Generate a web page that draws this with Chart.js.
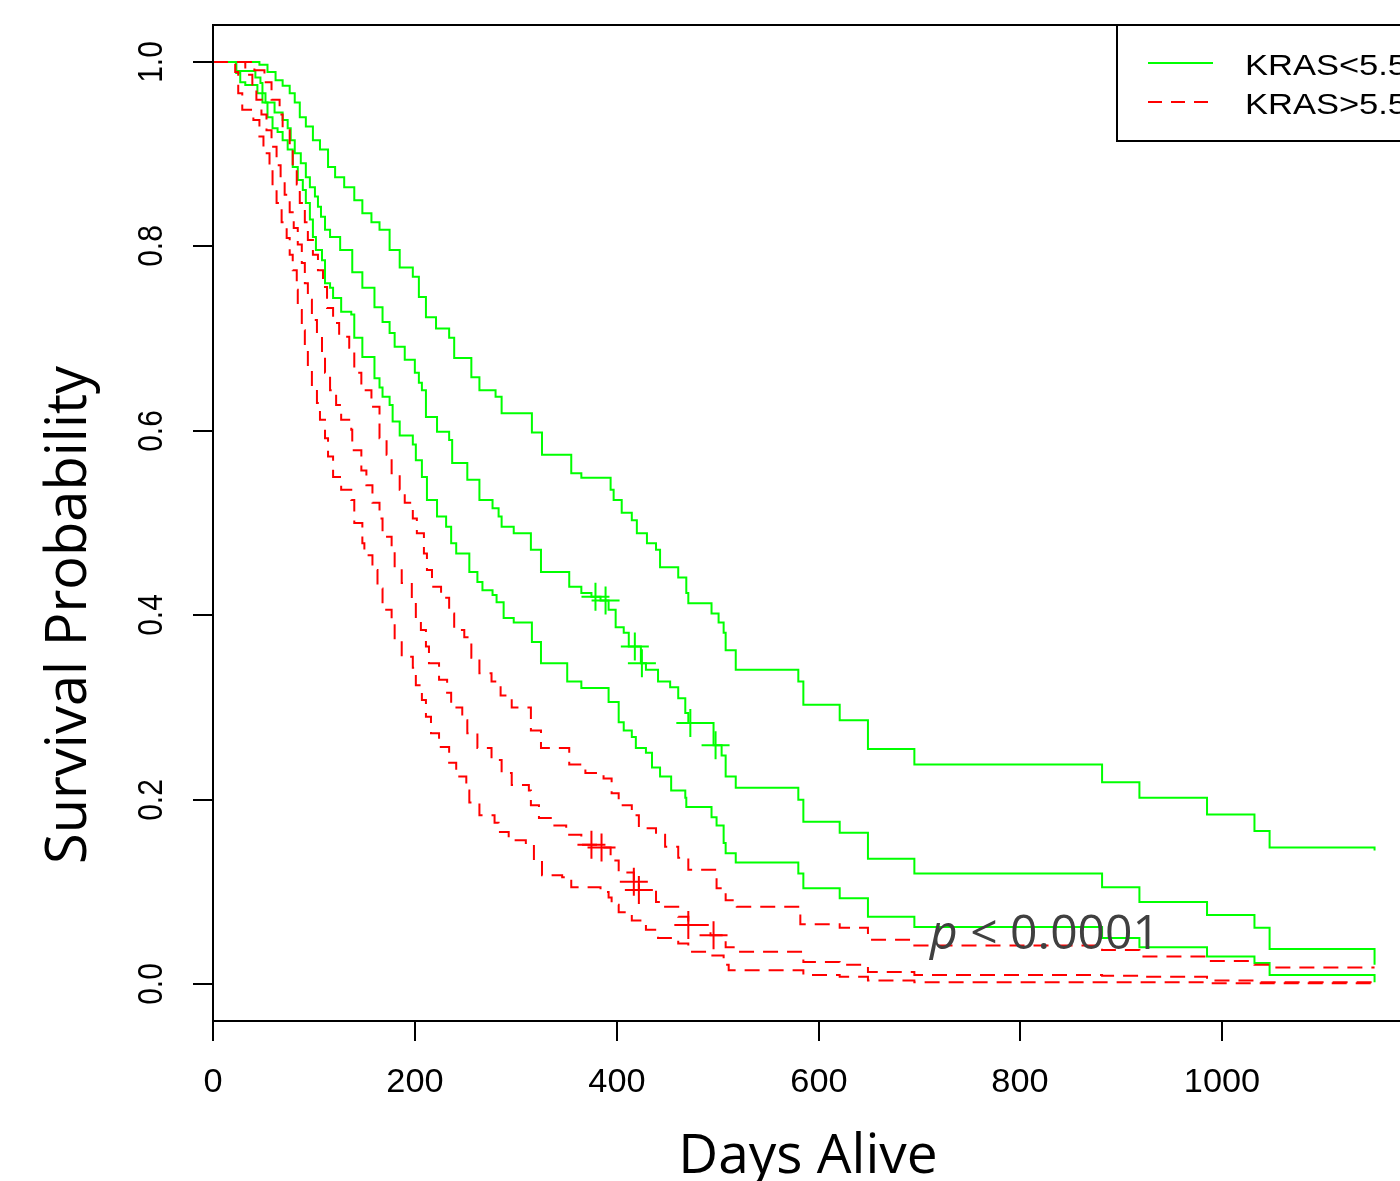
<!DOCTYPE html>
<html>
<head>
<meta charset="utf-8">
<title>KRAS survival</title>
<script src="https://cdn.jsdelivr.net/npm/chart.js@4.4.0/dist/chart.umd.min.js"></script>
<style>
  html, body { margin: 0; padding: 0; background: #fff; overflow: hidden; }
  #wrap { width: 1440px; height: 1181px; }
</style>
</head>
<body>
<div id="wrap"><canvas id="km" width="1440" height="1181"></canvas></div>
<script>
// ---- data (days, survival probability) ----
// KRAS<5.5 : estimate + upper / lower confidence limits
const lowDays = [0, 23, 42, 47, 49, 52, 61, 69, 74, 77, 81, 87, 92, 96, 101, 104, 107, 111, 116, 126, 138, 148, 160, 168, 175, 180, 190, 200, 204, 207, 211, 222, 234, 237, 252, 264, 277, 283, 286, 298, 315, 325, 353, 365, 375, 384, 392, 399, 407, 412, 424, 429, 441, 453, 461, 468, 471, 496, 504, 508, 518, 580, 585, 621, 649, 695, 881, 918, 985, 1032, 1047, 1151];
const lowSurv = [1, 0.990, 0.983, 0.977, 0.966, 0.956, 0.945, 0.937, 0.928, 0.915, 0.901, 0.890, 0.875, 0.864, 0.854, 0.843, 0.832, 0.818, 0.810, 0.796, 0.772, 0.755, 0.734, 0.718, 0.706, 0.691, 0.677, 0.663, 0.652, 0.644, 0.615, 0.599, 0.590, 0.565, 0.547, 0.525, 0.516, 0.507, 0.496, 0.489, 0.471, 0.447, 0.431, 0.424, 0.420, 0.416, 0.406, 0.387, 0.381, 0.366, 0.348, 0.341, 0.328, 0.322, 0.310, 0.294, 0.283, 0.259, 0.248, 0.225, 0.213, 0.200, 0.176, 0.164, 0.136, 0.120, 0.105, 0.089, 0.075, 0.061, 0.038, 0.021];

const lowUpDays = [0, 46, 54, 62, 69, 76, 81, 86, 92, 99, 106, 114, 121, 130, 140, 148, 157, 165, 175, 185, 198, 204, 211, 221, 234, 239, 256, 264, 280, 286, 316, 326, 355, 365, 394, 397, 405, 415, 420, 430, 439, 443, 461, 469, 471, 494, 501, 506, 508, 518, 580, 585, 621, 649, 695, 881, 918, 985, 1032, 1047, 1151];
const lowUpSurv = [1, 0.997, 0.989, 0.980, 0.974, 0.966, 0.956, 0.940, 0.930, 0.915, 0.905, 0.886, 0.875, 0.864, 0.850, 0.836, 0.826, 0.818, 0.796, 0.777, 0.767, 0.745, 0.723, 0.711, 0.701, 0.679, 0.658, 0.644, 0.637, 0.619, 0.598, 0.574, 0.554, 0.549, 0.536, 0.525, 0.511, 0.503, 0.489, 0.478, 0.471, 0.452, 0.441, 0.424, 0.413, 0.402, 0.392, 0.381, 0.362, 0.341, 0.328, 0.303, 0.286, 0.255, 0.238, 0.219, 0.202, 0.184, 0.166, 0.148, 0.145];

const lowLoDays = [0, 23, 27, 32, 44, 49, 54, 59, 64, 69, 74, 79, 84, 89, 92, 96, 99, 102, 108, 111, 116, 119, 127, 137, 140, 148, 160, 165, 168, 175, 178, 185, 198, 201, 207, 212, 222, 231, 236, 241, 254, 262, 267, 277, 281, 288, 298, 316, 325, 351, 365, 392, 402, 407, 415, 419, 429, 435, 443, 454, 468, 469, 494, 499, 506, 508, 518, 580, 585, 621, 649, 695, 881, 918, 985, 1032, 1047, 1151];
const lowLoSurv = [1, 0.988, 0.978, 0.975, 0.966, 0.956, 0.940, 0.928, 0.924, 0.915, 0.905, 0.886, 0.872, 0.861, 0.847, 0.829, 0.810, 0.796, 0.785, 0.760, 0.755, 0.744, 0.729, 0.726, 0.701, 0.680, 0.657, 0.647, 0.637, 0.628, 0.610, 0.595, 0.585, 0.568, 0.550, 0.525, 0.507, 0.496, 0.478, 0.467, 0.447, 0.436, 0.427, 0.422, 0.414, 0.397, 0.392, 0.371, 0.348, 0.328, 0.321, 0.306, 0.284, 0.275, 0.268, 0.256, 0.251, 0.235, 0.225, 0.210, 0.202, 0.192, 0.181, 0.172, 0.153, 0.142, 0.132, 0.120, 0.104, 0.093, 0.073, 0.062, 0.050, 0.040, 0.030, 0.023, 0.010, 0.002];

// KRAS>5.5 : estimate + upper / lower confidence limits
const highDays = [0, 32, 39, 43, 48, 53, 58, 63, 67, 71, 76, 80, 84, 88, 91, 94, 98, 103, 108, 111, 116, 122, 127, 137, 138, 147, 152, 158, 165, 168, 177, 180, 187, 197, 201, 206, 211, 214, 224, 232, 236, 247, 252, 262, 276, 286, 296, 313, 315, 323, 336, 350, 365, 385, 394, 402, 417, 422, 439, 448, 461, 471, 493, 508, 519, 585, 621, 649, 695, 881, 918, 985, 1032, 1151];
const highSurv = [1, 0.986, 0.972, 0.959, 0.943, 0.926, 0.908, 0.888, 0.872, 0.856, 0.837, 0.820, 0.802, 0.782, 0.760, 0.742, 0.720, 0.702, 0.684, 0.663, 0.644, 0.628, 0.612, 0.601, 0.579, 0.557, 0.541, 0.522, 0.505, 0.485, 0.471, 0.452, 0.435, 0.416, 0.398, 0.384, 0.366, 0.348, 0.330, 0.316, 0.300, 0.286, 0.272, 0.256, 0.243, 0.229, 0.216, 0.210, 0.194, 0.180, 0.172, 0.162, 0.151, 0.148, 0.134, 0.121, 0.111, 0.102, 0.089, 0.084, 0.073, 0.064, 0.053, 0.040, 0.035, 0.024, 0.021, 0.013, 0.010, 0.009, 0.008, 0.004, 0.002, 0.001];

const highUpDays = [0, 41, 51, 58, 66, 69, 76, 79, 83, 86, 91, 94, 99, 104, 109, 113, 119, 125, 135, 140, 147, 157, 165, 172, 177, 185, 190, 198, 202, 209, 212, 217, 226, 234, 239, 249, 256, 264, 276, 285, 296, 315, 325, 353, 369, 387, 395, 402, 415, 422, 439, 448, 461, 471, 499, 508, 519, 582, 621, 649, 695, 881, 918, 985, 1032, 1047, 1151];
const highUpSurv = [1, 0.991, 0.978, 0.959, 0.943, 0.926, 0.905, 0.886, 0.867, 0.847, 0.826, 0.807, 0.791, 0.774, 0.756, 0.733, 0.717, 0.702, 0.690, 0.663, 0.644, 0.626, 0.592, 0.574, 0.554, 0.536, 0.522, 0.505, 0.489, 0.467, 0.449, 0.431, 0.419, 0.402, 0.384, 0.376, 0.354, 0.337, 0.328, 0.313, 0.300, 0.275, 0.256, 0.238, 0.229, 0.223, 0.207, 0.194, 0.183, 0.169, 0.162, 0.149, 0.137, 0.124, 0.104, 0.091, 0.084, 0.065, 0.061, 0.048, 0.042, 0.037, 0.030, 0.025, 0.021, 0.018, 0.018];

const highLoDays = [0, 22, 25, 29, 40, 46, 50, 56, 59, 63, 68, 73, 76, 79, 83, 84, 88, 91, 94, 98, 103, 106, 111, 114, 119, 127, 137, 140, 148, 150, 158, 163, 168, 177, 180, 187, 198, 201, 207, 211, 216, 224, 234, 241, 251, 254, 264, 279, 283, 293, 310, 318, 326, 346, 355, 384, 392, 395, 402, 415, 429, 441, 461, 471, 493, 506, 511, 585, 621, 649, 695, 985, 1151];
const highLoSurv = [1, 0.989, 0.966, 0.948, 0.937, 0.919, 0.901, 0.883, 0.863, 0.847, 0.826, 0.809, 0.791, 0.774, 0.753, 0.731, 0.709, 0.688, 0.669, 0.647, 0.630, 0.612, 0.592, 0.572, 0.550, 0.536, 0.525, 0.500, 0.478, 0.465, 0.449, 0.429, 0.406, 0.393, 0.373, 0.355, 0.343, 0.324, 0.308, 0.290, 0.272, 0.257, 0.240, 0.225, 0.210, 0.197, 0.183, 0.175, 0.165, 0.156, 0.151, 0.134, 0.118, 0.116, 0.105, 0.100, 0.094, 0.086, 0.078, 0.069, 0.059, 0.050, 0.044, 0.035, 0.031, 0.021, 0.015, 0.010, 0.008, 0.004, 0.002, 0.001, 0];

// censored observations (+)
const lowCensorDays = [379, 389, 418, 425, 473, 498];
const lowCensorSurv = [0.420, 0.416, 0.366, 0.348, 0.283, 0.259];
const highCensorDays = [375, 385, 417, 422, 471, 496];
const highCensorSurv = [0.151, 0.148, 0.111, 0.102, 0.064, 0.053];

// axes
const xTicks = [0, 200, 400, 600, 800, 1000];
const xTickLabels = ['0', '200', '400', '600', '800', '1000'];
const yTicks = [0, 0.2, 0.4, 0.6, 0.8, 1.0];
const yTickLabels = ['0.0', '0.2', '0.4', '0.6', '0.8', '1.0'];
const groupNames = ['KRAS<5.5', 'KRAS>5.5'];
const pValueText = '< 0.0001';

const GREEN = '#00ff00';
const RED = '#ff0000';
const DASH = [15, 9];
const textStretch = 1.15; // the original figure is a little wider than tall

function toPoints(days, surv) {
  return days.map((d, i) => ({ x: d, y: surv[i] }));
}

function curve(days, surv, color, dashed) {
  return {
    data: toPoints(days, surv),
    borderColor: color,
    borderWidth: 2,
    borderDash: dashed ? DASH : [],
    stepped: 'before',
    pointRadius: 0,
    fill: false,
    order: dashed ? 0 : 1
  };
}

function censorMarks(days, surv, color) {
  return {
    data: toPoints(days, surv),
    showLine: false,
    pointStyle: 'cross',
    pointRadius: 14,
    pointBorderWidth: 2,
    borderColor: color,
    pointBorderColor: color,
    order: 0
  };
}

function wideText(ctx, txt, x, y, angle, stretch) {
  ctx.save();
  ctx.translate(x, y);
  ctx.scale(stretch || textStretch, 1);
  ctx.rotate(angle);
  ctx.fillText(txt, 0, 0);
  ctx.restore();
}

// frame, ticks, labels, legend and p-value drawn R style
const rDecor = {
  id: 'rDecor',
  afterDraw(chart) {
    const ctx = chart.ctx;
    const area = chart.chartArea;
    const xs = chart.scales.x, ys = chart.scales.y;
    ctx.save();
    ctx.setLineDash([]);
    ctx.strokeStyle = '#000';
    ctx.lineWidth = 2;
    ctx.strokeRect(area.left, area.top, area.right - area.left, area.bottom - area.top);

    ctx.fillStyle = '#000';
    ctx.textAlign = 'center';
    ctx.textBaseline = 'alphabetic';
    ctx.font = '33px "Liberation Sans", Arial, sans-serif';
    xTicks.forEach((v, i) => {
      const px = Math.round(xs.getPixelForValue(v));
      ctx.beginPath();
      ctx.moveTo(px, area.bottom);
      ctx.lineTo(px, area.bottom + 20);
      ctx.stroke();
      wideText(ctx, xTickLabels[i], px, area.bottom + 71, 0, 1.04);
    });
    ctx.font = '30px "Liberation Sans", Arial, sans-serif';
    yTicks.forEach((v, i) => {
      const py = Math.round(ys.getPixelForValue(v));
      ctx.beginPath();
      ctx.moveTo(area.left - 20, py);
      ctx.lineTo(area.left, py);
      ctx.stroke();
      wideText(ctx, yTickLabels[i], area.left - 51, py, -Math.PI / 2);
    });

    // axis titles
    ctx.font = '55px "Open Sans", sans-serif';
    ctx.fillText('Days Alive', 808, 1173);
    ctx.save();
    ctx.translate(86, 615);
    ctx.rotate(-Math.PI / 2);
    ctx.font = '56px "Open Sans", sans-serif';
    ctx.fillText('Survival Probability', 0, 0);
    ctx.restore();

    // legend
    const lx = 1117, ly = area.top;
    ctx.strokeRect(lx, ly, 400, 116);
    ctx.lineWidth = 2;
    ctx.strokeStyle = GREEN;
    ctx.beginPath(); ctx.moveTo(1148, 63); ctx.lineTo(1213, 63); ctx.stroke();
    ctx.strokeStyle = RED;
    ctx.setLineDash([14, 9]);
    ctx.beginPath(); ctx.moveTo(1148, 102); ctx.lineTo(1213, 102); ctx.stroke();
    ctx.setLineDash([]);
    ctx.textAlign = 'left';
    ctx.font = '30px "Liberation Sans", Arial, sans-serif';
    wideText(ctx, groupNames[0], 1245, 75, 0);
    wideText(ctx, groupNames[1], 1245, 114, 0);

    // p value
    ctx.fillStyle = '#404040';
    ctx.font = 'italic 48px "Open Sans", sans-serif';
    ctx.fillText('p', 930, 949);
    const pw = ctx.measureText('p ').width;
    ctx.font = '48px "Open Sans", sans-serif';
    ctx.fillText(pValueText, 930 + pw, 949);
    ctx.restore();
  }
};

new Chart(document.getElementById('km'), {
  type: 'line',
  data: {
    datasets: [
      curve(lowUpDays, lowUpSurv, GREEN, false),
      curve(lowDays, lowSurv, GREEN, false),
      curve(lowLoDays, lowLoSurv, GREEN, false),
      curve(highUpDays, highUpSurv, RED, true),
      curve(highDays, highSurv, RED, true),
      curve(highLoDays, highLoSurv, RED, true),
      censorMarks(lowCensorDays, lowCensorSurv, GREEN),
      censorMarks(highCensorDays, highCensorSurv, RED)
    ]
  },
  options: {
    responsive: false,
    devicePixelRatio: 1,
    animation: false,
    layout: { padding: { left: 213, right: 12, top: 25, bottom: 160 } },
    scales: {
      x: { type: 'linear', min: 0, max: 1200, display: false },
      y: { type: 'linear', min: -0.04, max: 1.04, display: false }
    },
    plugins: {
      legend: { display: false },
      tooltip: { enabled: false }
    }
  },
  plugins: [rDecor]
});
</script>
</body>
</html>
